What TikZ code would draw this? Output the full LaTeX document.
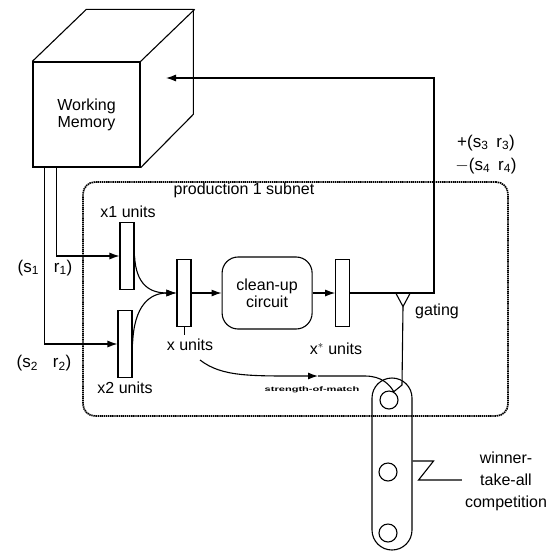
\documentclass[tikz,border=0pt]{standalone}
\usepackage{fontspec}
\setmainfont{Liberation Sans}
\usetikzlibrary{arrows.meta,positioning,calc}
\newcommand{\lblsize}{\fontsize{16}{17}\selectfont}
\tikzset{
  wire/.style={line width=1.1pt},
  arrow/.style={-{Latex[length=10pt,width=7pt]}, line width=1.1pt},
  unit/.style={draw, line width=1.1pt, minimum width=14pt, minimum height=67pt, inner sep=0pt},
  cleanup/.style={draw, line width=1.1pt, rounded corners=16pt, minimum width=90pt, minimum height=72pt, align=center, font=\lblsize},
  memory/.style={draw, line width=1.3pt, minimum width=107pt, minimum height=105pt, align=center, font=\lblsize},
  subnet/.style={draw, dash pattern=on 1.4pt off 0.7pt, line width=1.7pt, rounded corners=12pt, minimum width=425pt, minimum height=234pt},
  wtabar/.style={draw, line width=1.1pt, rounded corners=20pt, minimum width=40pt, minimum height=172pt},
  cell/.style={draw, circle, line width=1.1pt, minimum size=18pt, inner sep=0pt},
  lbl/.style={font=\lblsize, inner sep=0pt, align=center},
  pair/.style={font=\fontsize{17}{18}\selectfont, inner sep=0pt}
}

\begin{document}
\begin{tikzpicture}[x=1pt,y=-1pt]
  \useasboundingbox (0,0) rectangle (553,552);

  % working memory cube
  \node[memory] (wm) at (86.5,114.5) {Working\\Memory};
  \draw[wire, line join=round] (wm.north west) -- ++(54,-52) -- ++(107,0) -- ++(0,105) -- (wm.south east);
  \draw[wire] (wm.north east) -- ++(54,-52);

  % subnet
  \node[subnet] (net) at (295.5,299) {};
  \node[lbl] (netl) at (244,190) {production 1 subnet};

  \node[unit] (x1) at (127,256) {};
  \node[unit] (x2) at (125,344) {};
  \node[unit] (x) at (184,293) {};
  \node[cleanup, right=30pt of x] (clean) {clean-up\\circuit};
  \node[unit, right=22.5pt of clean] (xs) {};

  \node[lbl] (x1l) at (128,212) {x1 units};
  \node[lbl] (x2l) at (125,388) {x2 units};
  \node[lbl] (xl) at (190,345) {x units};
  \node[lbl] (xsl) at (336,349) {x$^{*}$ units};
  \node[lbl] (gatel) at (437,311) {gating};

  \node[pair] (in1) at (45,268) {(s\textsubscript{1}\hspace{15pt}r\textsubscript{1})};
  \node[pair] (in2) at (44,363) {(s\textsubscript{2}\hspace{15pt}r\textsubscript{2})};
  \node[pair] (out3) at (486,143) {+(s\textsubscript{3}\hspace{8pt}r\textsubscript{3})};
  \node[pair] (out4) at (486,166) {$-$(s\textsubscript{4}\hspace{8pt}r\textsubscript{4})};

  % inputs from working memory
  \draw[arrow] ($(wm.south west)+(24,0)$) |- (x1.west);
  \draw[arrow] ($(wm.south west)+(12,0)$) |- (x2.west);
  \draw[arrow] (x1.east) .. controls (136,285) and (150,293) .. (x.west);
  \draw[arrow] (x2.east) .. controls (134,305) and (150,293) .. (x.west);
  \draw[wire, line width=0.6pt] (x.south) -- ++(0,8);
  \draw[arrow] (x) -- (clean);
  \draw[arrow] (clean) -- (xs);

  % feedback to working memory
  \coordinate (fbtop) at (434,78);
  \coordinate (wmin) at (166,78);
  \draw[arrow] (xs.east) -| (fbtop) -- (wmin);

  % winner-take-all
  \node[wtabar] (wta) at (392,464) {};
  \node[cell] (c1) at (389,400) {};
  \node[cell] (c2) at (388,472) {};
  \node[cell] (c3) at (388,533) {};
  \node[lbl, font=\fontsize{16}{22}\selectfont] (wtal) at (506,481) {winner-\\take-all\\competition};
  \draw[wire] ($(wta.east)+(0,-3)$) -- ++(21,0) -- ++(-15,19) -- ($(wtal.west)+(-3,-1)$);

  % gating
  \coordinate (gate) at (403,293.5);
  \draw[wire] ($(gate)+(-7,0)$) -- ($(gate)+(0,13)$) -- ($(gate)+(7,0)$);
  \draw[wire] ($(gate)+(0,13)$) -- (402,385) -- (c1.60);

  % strength of match
  \coordinate (sm0) at (200,360);
  \coordinate (smmid) at (318,376);
  \draw[arrow] (sm0) .. controls (222,377) and (250,376) .. (smmid);
  \draw[wire] (smmid) -- (365,376) .. controls (382,376) and (390,385) .. (c1.60);
  \node[inner sep=0pt, font=\fontsize{6.5}{7}\selectfont\bfseries] (sml) at (312,390) {\scalebox{1.7}[1]{strength-of-match}};
\end{tikzpicture}
\end{document}
